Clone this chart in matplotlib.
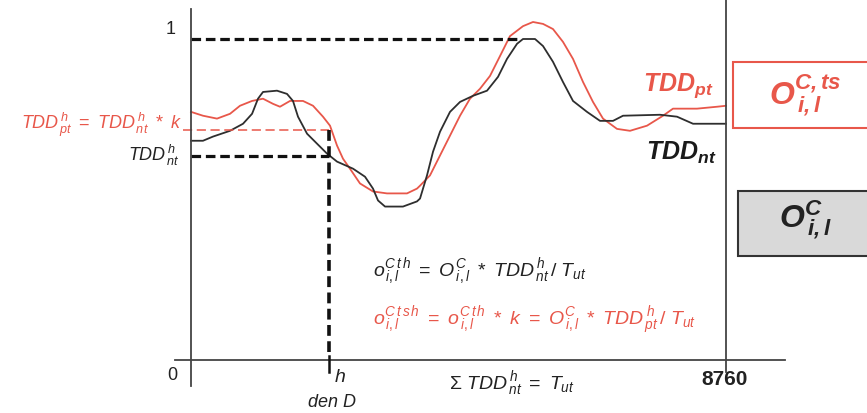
import matplotlib
matplotlib.use('Agg')
import matplotlib.pyplot as plt
from matplotlib.lines import Line2D
from matplotlib.patches import Rectangle

plt.rcParams['font.family'] = 'Liberation Sans'
plt.rcParams['mathtext.fontset'] = 'custom'
plt.rcParams['mathtext.rm'] = 'Liberation Sans'
plt.rcParams['mathtext.it'] = 'Liberation Sans:italic'
plt.rcParams['mathtext.bf'] = 'Liberation Sans:bold'
plt.rcParams['mathtext.bfit'] = 'Liberation Sans:bold:italic'

# data: hours of the year (0..8760) vs normalised TDD
hours_nt = [0, 196, 360, 639, 852, 1000, 1097, 1179, 1408, 1572, 1670, 1752, 1900, 2063, 2227,
            2391, 2653, 2849, 2980, 3062, 3177, 3471, 3700, 3750, 3864, 3963, 4077, 4241, 4405,
            4617, 4847, 5027, 5174, 5338, 5436, 5633, 5764, 5927, 6091, 6255, 6484, 6697, 6910,
            7074, 7679, 7958, 8220, 8760]
tdd_nt = [0.683, 0.683, 0.696, 0.714, 0.736, 0.767, 0.814, 0.835, 0.839, 0.829, 0.807, 0.758,
          0.705, 0.674, 0.643, 0.618, 0.596, 0.571, 0.534, 0.497, 0.478, 0.478, 0.494, 0.503,
          0.575, 0.649, 0.711, 0.773, 0.804, 0.823, 0.839, 0.882, 0.938, 0.985, 1.0, 1.0, 0.978,
          0.929, 0.866, 0.807, 0.773, 0.745, 0.745, 0.761, 0.764, 0.758, 0.736, 0.736]

hours_pt = [0, 196, 426, 639, 802, 999, 1179, 1343, 1457, 1621, 1834, 1998, 2161, 2276, 2391,
            2489, 2603, 2767, 2980, 3209, 3537, 3701, 3750, 3913, 4077, 4241, 4405, 4568, 4732,
            4896, 5060, 5223, 5436, 5600, 5764, 5927, 6091, 6255, 6419, 6582, 6746, 6975, 7188,
            7467, 7729, 7892, 8285, 8613, 8760]
tdd_pt = [0.773, 0.761, 0.752, 0.767, 0.792, 0.807, 0.814, 0.798, 0.789, 0.807, 0.807, 0.792,
          0.758, 0.730, 0.668, 0.627, 0.596, 0.550, 0.525, 0.519, 0.519, 0.534, 0.543, 0.575,
          0.637, 0.699, 0.761, 0.814, 0.845, 0.885, 0.947, 1.009, 1.040, 1.053, 1.047, 1.031,
          0.991, 0.938, 0.866, 0.804, 0.752, 0.720, 0.714, 0.730, 0.761, 0.783, 0.783, 0.789, 0.792]

h_hour = 2260
tdd_nt_h = 0.635
tdd_pt_h = 0.717
peak_hour = 5330

RED = '#e8574a'
DARK = '#2e2e2e'
W, H = 867, 414


def fx(x):
    return x / W


def fy(y):
    return 1 - y / H


fig = plt.figure(figsize=(8.67, 4.14), dpi=100)
ax = fig.add_axes([fx(191), fy(361), (726 - 191) / W, (361 - 40) / H])
ax.set_xlim(0, 8760)
ax.set_ylim(0, 1)
ax.axis('off')

# curves
ax.plot(hours_pt, tdd_pt, color=RED, lw=1.3, clip_on=False)
ax.plot(hours_nt, tdd_nt, color=DARK, lw=1.3, clip_on=False)

# guide lines
ax.plot([0, peak_hour], [1, 1], color='#111', lw=2.3, ls=(0, (3, 1.5)), clip_on=False)
ax.plot([0, h_hour], [tdd_nt_h, tdd_nt_h], color='#111', lw=2.3, ls=(0, (3, 1.5)), clip_on=False)
ax.plot([-130, h_hour], [tdd_pt_h, tdd_pt_h], color=RED, lw=1.1, ls=(0, (6, 3)), clip_on=False)
ax.plot([h_hour, h_hour], [tdd_pt_h, 0.025], color='#111', lw=2.6, ls=(0, (3, 1.5)), clip_on=False)

# axis frame
axis_col = '#444444'
fig.add_artist(Line2D([fx(191), fx(191)], [fy(10), fy(387)], color=axis_col, lw=1.3))
fig.add_artist(Line2D([fx(175), fx(785)], [fy(361), fy(361)], color=axis_col, lw=1.3))
fig.add_artist(Line2D([fx(726), fx(726)], [fy(0), fy(373)], color=axis_col, lw=1.3))
fig.add_artist(Line2D([fx(329), fx(329)], [fy(357), fy(373)], color='#111', lw=1.8))

# axis labels
fig.text(fx(171), fy(30), '1', fontsize=13, ha='center', va='center', color='#222')
fig.text(fx(172), fy(376), '0', fontsize=13, ha='center', va='center', color='#222')
fig.text(fx(725), fy(380), '8760', fontsize=15, fontweight='bold', ha='center', va='center', color='#222')
fig.text(fx(340), fy(378), r'$h$', fontsize=14, ha='center', va='center', color='#222')
fig.text(fx(332), fy(403), r'$den\ D$', fontsize=13, ha='center', va='center', color='#222')
fig.text(fx(512), fy(384), r'$\Sigma\ TDD^{\,h}_{\,nt}\ =\ T_{ut}$', fontsize=14, ha='center', va='center',
         color='#222')

# left labels
fig.text(fx(182), fy(125), r'$TDD^{\,h}_{\,pt}\ =\ TDD^{\,h}_{\,nt}\ *\ k$', fontsize=13, ha='right',
         va='center', color=RED)
fig.text(fx(180), fy(155), r'$TDD^{\,h}_{\,nt}$', fontsize=13, ha='right', va='center', color='#222')

# curve labels
fig.text(fx(678), fy(86), r'$\mathbfit{TDD}_{\mathbfit{pt}}$', fontsize=18, ha='center', va='center',
         color=RED)
fig.text(fx(681), fy(153), r'$\mathbfit{TDD}_{\mathbfit{nt}}$', fontsize=18, ha='center', va='center',
         color='#1a1a1a')

# formulas
fig.text(fx(373), fy(272), r'$o^{C\,t\,h}_{\,i,l}\ =\ O^{C}_{\,i,l}\ *\ TDD^{\,h}_{\,nt}\,/\ T_{ut}$',
         fontsize=14, ha='left', va='center', color='#222')
fig.text(fx(373), fy(321),
         r'$o^{C\,t\,s\,h}_{\,i,l}\ =\ o^{C\,t\,h}_{\,i,l}\ *\ k\ =\ O^{C}_{\,i,l}\ *\ TDD^{\,h}_{\,pt}\,/\ T_{ut}$',
         fontsize=14, ha='left', va='center', color=RED)

# boxes on the right
fig.add_artist(Rectangle((fx(733), fy(129)), (870 - 733) / W, (129 - 63) / H, transform=fig.transFigure,
                         facecolor='white', edgecolor=RED, lw=1.5))
fig.add_artist(Rectangle((fx(738), fy(257)), (870 - 738) / W, (257 - 192) / H, transform=fig.transFigure,
                         facecolor='#d9d9d9', edgecolor='#333', lw=1.5))
fig.text(fx(805), fy(96), r'$\mathbfit{O}^{\mathbfit{C,ts}}_{\mathbfit{\,i,l}}$', fontsize=23, ha='center',
         va='center', color=RED)
fig.text(fx(806), fy(220), r'$\mathbfit{O}^{\mathbfit{C}}_{\mathbfit{\,i,l}}$', fontsize=23, ha='center',
         va='center', color='#222')

fig.savefig('out.png', dpi=100)
